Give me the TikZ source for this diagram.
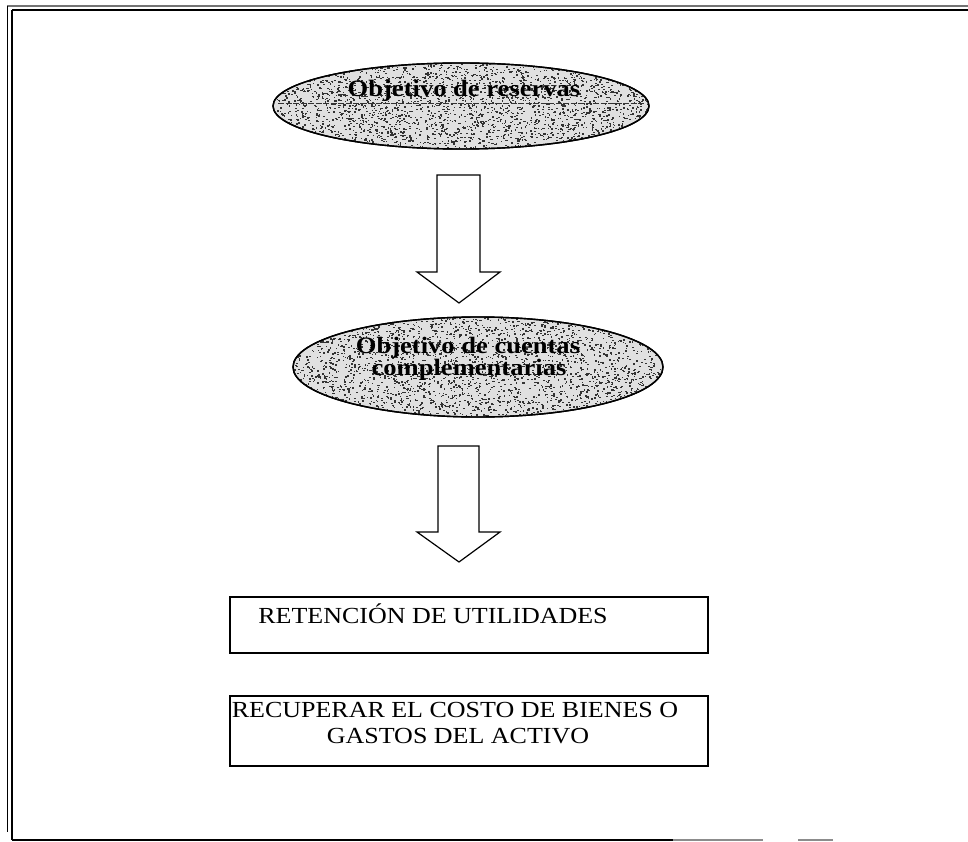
\documentclass[tikz,border=0pt]{standalone}
\usepackage{fontspec}
\setmainfont{Liberation Serif}
\newfontfamily\figfont[FakeStretch=1.13]{Liberation Serif}
\usetikzlibrary{shapes.geometric,calc}

\tikzset{
  oval/.style={ellipse, draw=black, line width=1.4pt, fill=black!12, inner sep=0pt},
  ovaltext/.style={anchor=base, inner sep=0pt, font=\figfont\bfseries\fontsize{23.5}{23.5}\selectfont},
  boxframe/.style={draw=black, line width=1.4pt, inner sep=0pt},
  boxtext/.style={anchor=base, inner sep=0pt, font=\figfont\fontsize{23}{23}\selectfont},
  blockarrow/.style={draw=black, line width=1.2pt, fill=white, line join=miter},
  frameline/.style={line width=1.8pt, black},
  speck/.style={fill=black!80}
}

\newcommand{\speckle}[4]{% centre x, centre y, radius x, radius y
  \begin{scope}
    \clip (#1,#2) ellipse [x radius=#3, y radius=#4];
    \foreach \k in {1,...,2300}{
      \pgfmathsetmacro{\ang}{rnd*360}
      \pgfmathsetmacro{\rad}{sqrt(rnd)}
      \fill[speck] ({#1+\rad*#3*cos(\ang)},{#2+\rad*#4*sin(\ang)}) rectangle ++(1.6,1.3);
    }
  \end{scope}
}

\begin{document}
\begin{tikzpicture}[x=1pt,y=-1pt]
  \useasboundingbox (0,0) rectangle (968,842);
  \fill[white] (0,0) rectangle (968,842);
  \pgfmathsetseed{11}

  % page frame: double rule on top and left, single rule below
  \draw[line width=1.2pt, black!55] (7,6) -- (968,6);
  \draw[frameline] (12,10) -- (968,10);
  \draw[frameline] (7.5,6) -- (7.5,832);
  \draw[frameline] (12,10) -- (12,840);
  \draw[line width=1.6pt, black] (12,840) -- (673,840);
  \draw[line width=1.6pt, black!45] (673,840) -- (763,840);
  \draw[line width=1.6pt, black!45] (798,840) -- (833,840);

  % first objective
  \node[oval, minimum width=376, minimum height=86] (e1) at (461,106) {};
  \speckle{461}{106}{188}{43}
  \draw[line width=0.9pt, black!80, dash pattern=on 6pt off 1.5pt] (278,103) -- (643,103);
  \draw[line width=1.4pt] (e1.center) ellipse [x radius=188, y radius=43];
  \node[ovaltext] (t1) at (464,97) {Objetivo de reservas};

  % second objective
  \node[oval, minimum width=370, minimum height=100] (e2) at (478,367) {};
  \speckle{478}{367}{185}{50}
  \draw[line width=1.4pt] (e2.center) ellipse [x radius=185, y radius=50];
  \node[ovaltext] (t2a) at (468,353) {Objetivo de cuentas};
  \node[ovaltext] (t2b) at (469,375) {complementarias};

  % block arrows between the stages
  \coordinate (a1) at (459,175);
  \draw[blockarrow] ($(a1)+(-22,0)$) -- ++(0,97) -- ++(-20,0) -- ($(a1)+(0,128)$)
     -- ($(a1)+(41,97)$) -- ($(a1)+(21,97)$) -- ($(a1)+(21,0)$) -- cycle;
  \coordinate (a2) at (459,446);
  \draw[blockarrow] ($(a2)+(-21,0)$) -- ++(0,86) -- ++(-21,0) -- ($(a2)+(0,116)$)
     -- ($(a2)+(41,86)$) -- ($(a2)+(20,86)$) -- ($(a2)+(20,0)$) -- cycle;

  % result boxes
  \node[boxframe, minimum width=478, minimum height=56] (b1) at (469,625) {};
  \node[boxtext] (bt1) at (433,623) {RETENCIÓN DE UTILIDADES};
  \node[boxframe, minimum width=478, minimum height=70] (b2) at (469,731) {};
  \node[boxtext] (bt2a) at (455,717) {RECUPERAR EL COSTO DE BIENES O};
  \node[boxtext] (bt2b) at (458,743) {GASTOS DEL ACTIVO};
\end{tikzpicture}
\end{document}
